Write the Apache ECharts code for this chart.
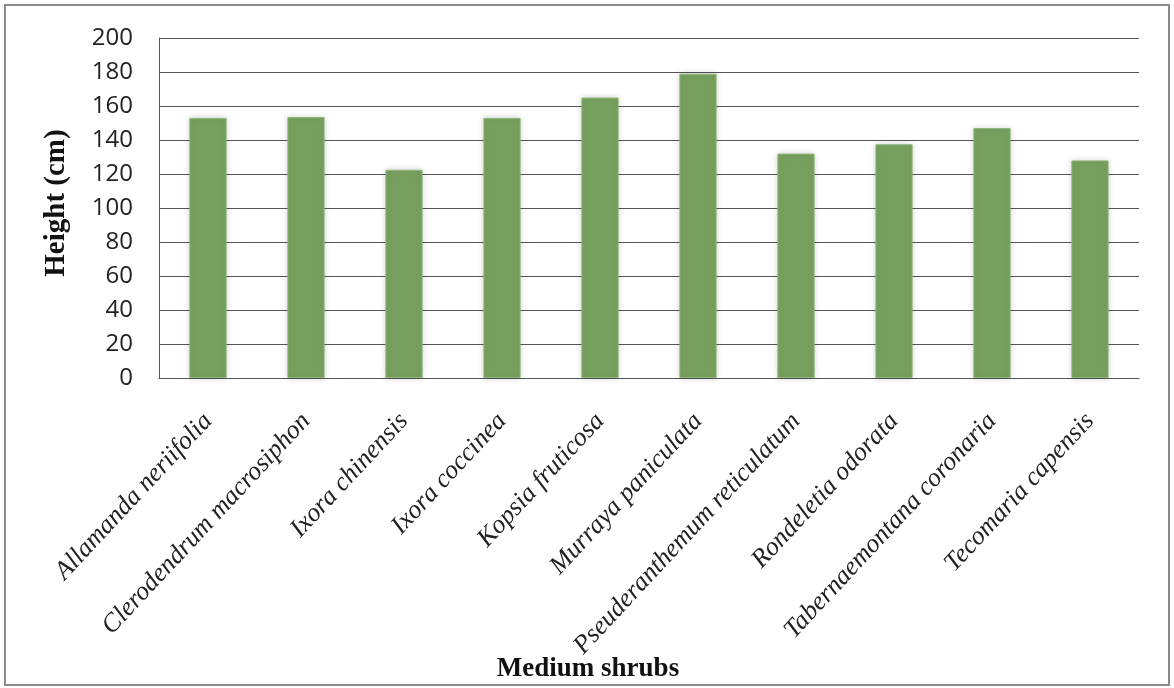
<!DOCTYPE html>
<html>
<head>
<meta charset="utf-8">
<script src="https://cdn.jsdelivr.net/npm/echarts@6/dist/echarts.min.js"></script>
<style>html,body{margin:0;padding:0;background:#fff;}#c{width:1174px;height:688px;}</style>
</head>
<body>
<div id="c"></div>
<script>
const categories = ['Allamanda neriifolia','Clerodendrum macrosiphon','Ixora chinensis','Ixora coccinea','Kopsia fruticosa','Murraya paniculata','Pseuderanthemum reticulatum','Rondeletia odorata','Tabernaemontana coronaria','Tecomaria capensis'];
const heights = [153, 153.5, 122.5, 153, 165, 179, 132, 137.5, 147, 128];
const yTicks = {min: 0, max: 200, interval: 20};

const chart = echarts.init(document.getElementById('c'));
chart.setOption({
  animation: false,
  backgroundColor: '#fff',
  grid: {left: 159, right: 35, top: 38, bottom: 310},
  title: {
    text: 'Medium shrubs', left: 583, top: 651, textAlign: 'center',
    textStyle: {fontFamily: 'Liberation Serif', fontWeight: 'bold', fontSize: 27, color: '#111'}
  },
  graphic: [{
    type: 'rect', shape: {x: 5, y: 5, width: 1164, height: 680},
    style: {fill: 'none', stroke: '#8a8a8a', lineWidth: 2}, silent: true, z: -1
  }],
  xAxis: {
    type: 'category', data: categories,
    axisLine: {show: true, lineStyle: {color: '#555', width: 1}},
    axisTick: {show: false},
    axisLabel: {
      rotate: 47, interval: 0, margin: 39, verticalAlign: 'middle',
      fontFamily: 'Liberation Serif', fontStyle: 'italic', fontSize: 26, color: '#222'
    }
  },
  yAxis: {
    type: 'value', min: yTicks.min, max: yTicks.max, interval: yTicks.interval,
    name: 'Height (cm)', nameLocation: 'middle', nameGap: 88, nameRotate: 90,
    nameTextStyle: {fontFamily: 'Liberation Serif', fontWeight: 'bold', fontSize: 29, color: '#111', padding: [0, 0, 0, 10]},
    axisLine: {show: true, lineStyle: {color: '#555', width: 1}},
    axisTick: {show: false},
    axisLabel: {fontFamily: 'Open Sans', fontSize: 24, color: '#222', margin: 26},
    splitLine: {show: true, lineStyle: {color: '#555', width: 1}}
  },
  series: [{
    type: 'bar', data: heights, barWidth: '38%',
    itemStyle: {
      color: '#77A05E', borderColor: '#8fb87a', borderWidth: 1,
      shadowBlur: 6, shadowColor: 'rgba(0,0,0,0.18)'
    }
  }]
});
</script>
</body>
</html>
